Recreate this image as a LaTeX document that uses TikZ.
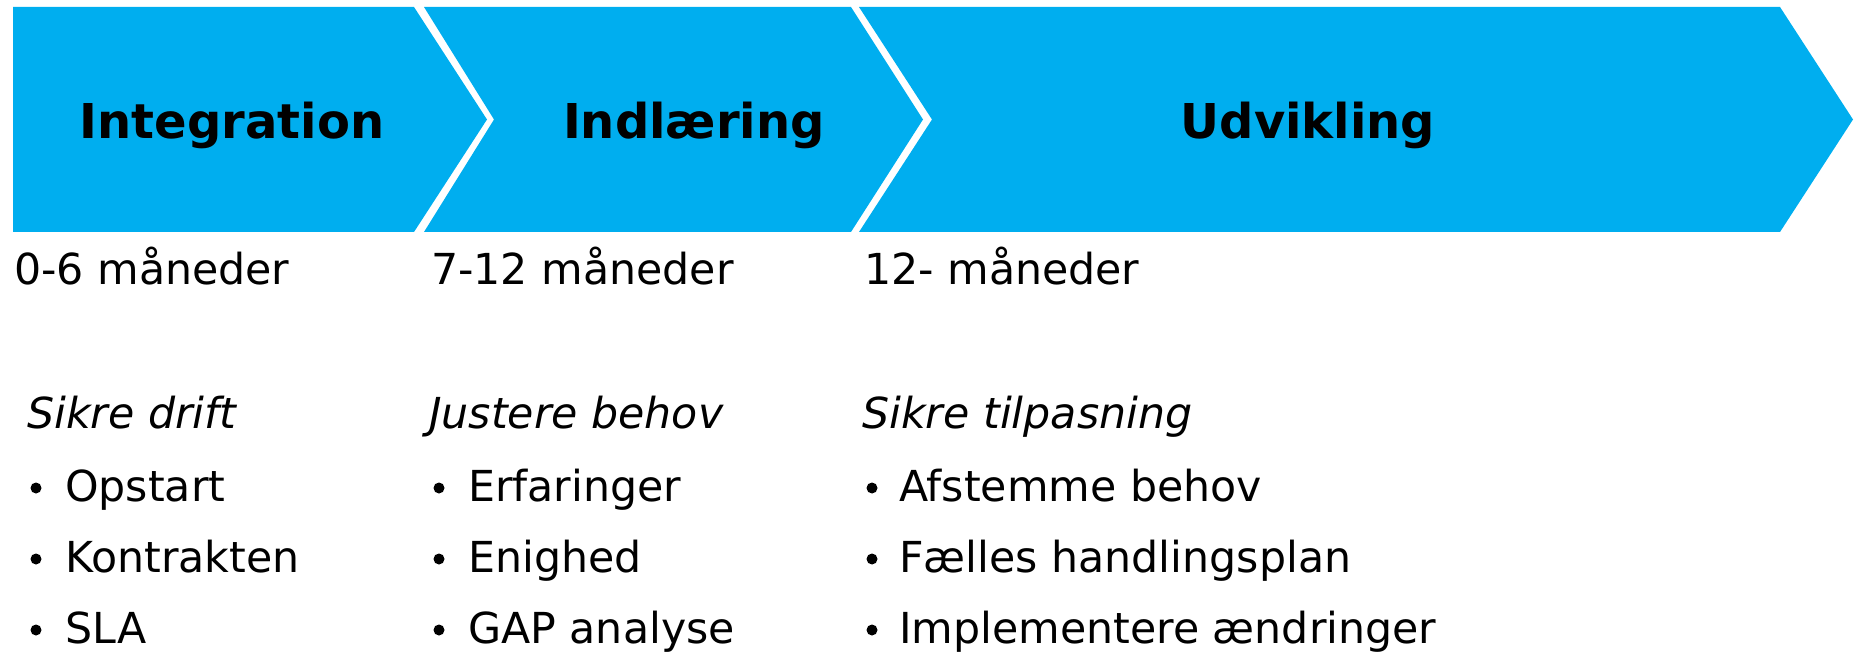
\documentclass[tikz,border=0pt]{standalone}
\usepackage{fontspec}
\setmainfont{DejaVu Sans}
\definecolor{chev}{RGB}{0,174,239}
\begin{document}
\begin{tikzpicture}[x=1pt,y=-1pt,
  chevron/.style={fill=chev,draw=none},
  head/.style={font=\fontsize{48}{58}\selectfont\bfseries,anchor=base,inner sep=0pt},
  period/.style={font=\fontsize{42.7}{51}\selectfont,anchor=base west,inner sep=0pt},
  goal/.style={font=\fontsize{42.7}{51}\selectfont\itshape,anchor=base west,inner sep=0pt},
  itemtext/.style={font=\fontsize{42.7}{51}\selectfont,anchor=base west,inner sep=0pt},
  dot/.style={circle,fill=black,draw=none,inner sep=0pt,minimum size=11pt}]
\useasboundingbox (0,0) rectangle (1861,655);

% chevrons
\fill[chevron] (13,7) -- (414,7) -- (487,119.5) -- (414,232) -- (13,232) -- cycle;
\fill[chevron] (424,7) -- (851,7) -- (923,119.5) -- (851,232) -- (424,232) -- (494,119.5) -- cycle;
\fill[chevron] (859,7) -- (1780,7) -- (1853,119.5) -- (1780,232) -- (859,232) -- (932,119.5) -- cycle;

% headings
\node[head] (h1) at (232,139) {Integration};
\node[head] (h2) at (694,139) {Indlæring};
\node[head] (h3) at (1308,139) {Udvikling};

% periods
\node[period] (p1) at (14,284) {0-6 måneder};
\node[period] (p2) at (431,284) {7-12 måneder};
\node[period] (p3) at (864,284) {12- måneder};

% goals
\node[goal] (g1) at (27,428) {Sikre drift};
\node[goal] (g2) at (429,428) {Justere behov};
\node[goal] (g3) at (862,428) {Sikre tilpasning};

% items column 1
\node[dot] (d11) at (36,488) {};
\node[dot] (d12) at (36,559) {};
\node[dot] (d13) at (36,630) {};
\node[itemtext] (i11) at (65,501) {Opstart};
\node[itemtext] (i12) at (65,572) {Kontrakten};
\node[itemtext] (i13) at (65,643) {SLA};

% items column 2
\node[dot] (d21) at (439,488) {};
\node[dot] (d22) at (439,559) {};
\node[dot] (d23) at (439,630) {};
\node[itemtext] (i21) at (468,501) {Erfaringer};
\node[itemtext] (i22) at (468,572) {Enighed};
\node[itemtext] (i23) at (468,643) {GAP analyse};

% items column 3
\node[dot] (d31) at (872,488) {};
\node[dot] (d32) at (872,559) {};
\node[dot] (d33) at (872,630) {};
\node[itemtext] (i31) at (899,501) {Afstemme behov};
\node[itemtext] (i32) at (899,572) {Fælles handlingsplan};
\node[itemtext] (i33) at (899,643) {Implementere ændringer};
\end{tikzpicture}
\end{document}
